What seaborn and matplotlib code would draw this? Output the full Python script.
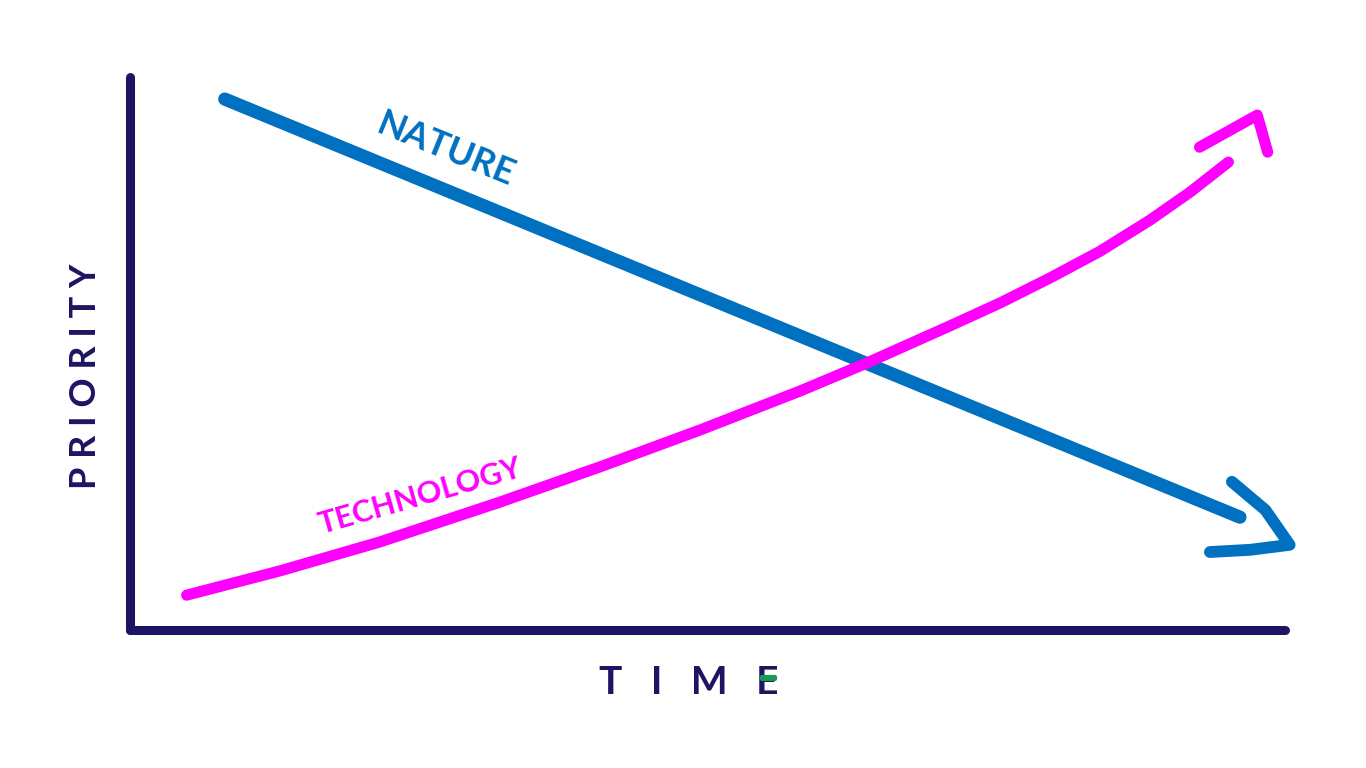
import matplotlib
matplotlib.use("Agg")
import matplotlib.pyplot as plt
import matplotlib.patheffects as pe
import seaborn as sns

# Values (time 0-100, priority 0-100)
nature_time = [8.2, 96.1]
nature_priority = [96.0, 20.4]

tech_time = [4.9, 13.0, 21.6, 32.0, 40.7, 49.4, 58.0, 63.6, 71.0, 75.3,
             79.7, 84.0, 88.3, 91.8, 95.1]
tech_priority = [6.3, 10.7, 15.9, 23.1, 29.5, 36.2, 43.2, 48.1, 55.0, 59.1,
                 63.7, 68.5, 74.1, 79.2, 84.6]

# hand-drawn arrow heads
tech_head_time = [92.6, 97.6, 98.5]
tech_head_priority = [87.3, 93.1, 86.4]
nature_head_time = [95.4, 98.3, 100.4, 97.0, 93.5]
nature_head_priority = [26.8, 21.7, 15.4, 14.5, 14.1]

NAVY = "#1d1563"
BLUE = "#0070c0"
PINK = "#ff00ff"
GREEN = "#1a9a50"

sns.set_theme(style="white")
plt.rcParams['font.family'] = ['Lato', 'DejaVu Sans']

fig = plt.figure(figsize=(13.66, 7.68), dpi=100)
ax = fig.add_axes([0.0952, 0.1797, 0.8455, 0.7201])

line_kw = dict(solid_capstyle='round', solid_joinstyle='round', clip_on=False)

sns.lineplot(x=nature_time, y=nature_priority, color=BLUE, linewidth=9.5, ax=ax, **line_kw)
sns.lineplot(x=nature_head_time, y=nature_head_priority, color=BLUE, linewidth=8.5,
             sort=False, ax=ax, **line_kw)
sns.lineplot(x=tech_time, y=tech_priority, color=PINK, linewidth=8, ax=ax, **line_kw)
sns.lineplot(x=tech_head_time, y=tech_head_priority, color=PINK, linewidth=8,
             sort=False, ax=ax, **line_kw)

ax.set_xlim(0, 100)
ax.set_ylim(0, 100)
ax.set_xticks([])
ax.set_yticks([])

for side in ['top', 'right']:
    ax.spines[side].set_visible(False)
for side in ['left', 'bottom']:
    ax.spines[side].set_color(NAVY)
    ax.spines[side].set_linewidth(6.5)
    ax.spines[side].set_capstyle('round')

# labels on the curves
ax.text(27.3, 86.8, "NATURE", color=BLUE, fontsize=26, fontweight='bold',
        rotation=-22, ha='center', va='center')
ax.text(25.1, 24.2, "TECHNOLOGY", color=PINK, fontsize=22, fontweight='bold',
        rotation=16, ha='center', va='center')

ax.set_xlabel("T   I   M   E", color=NAVY, fontsize=28, fontweight='bold')
ax.xaxis.set_label_coords(0.484, -0.063)
ax.set_ylabel("P R I O R I T Y", color=NAVY, fontsize=26, fontweight='bold')
ax.yaxis.set_label_coords(-0.024, 0.459)

# the green middle bar of the E
ax.text(0.546, -0.087, "\u2014", color=GREEN, fontsize=14, fontweight='bold',
        ha='left', va='center', transform=ax.transAxes,
        path_effects=[pe.withStroke(linewidth=3, foreground=GREEN)])

fig.savefig("out.png", dpi=100, facecolor="white")
